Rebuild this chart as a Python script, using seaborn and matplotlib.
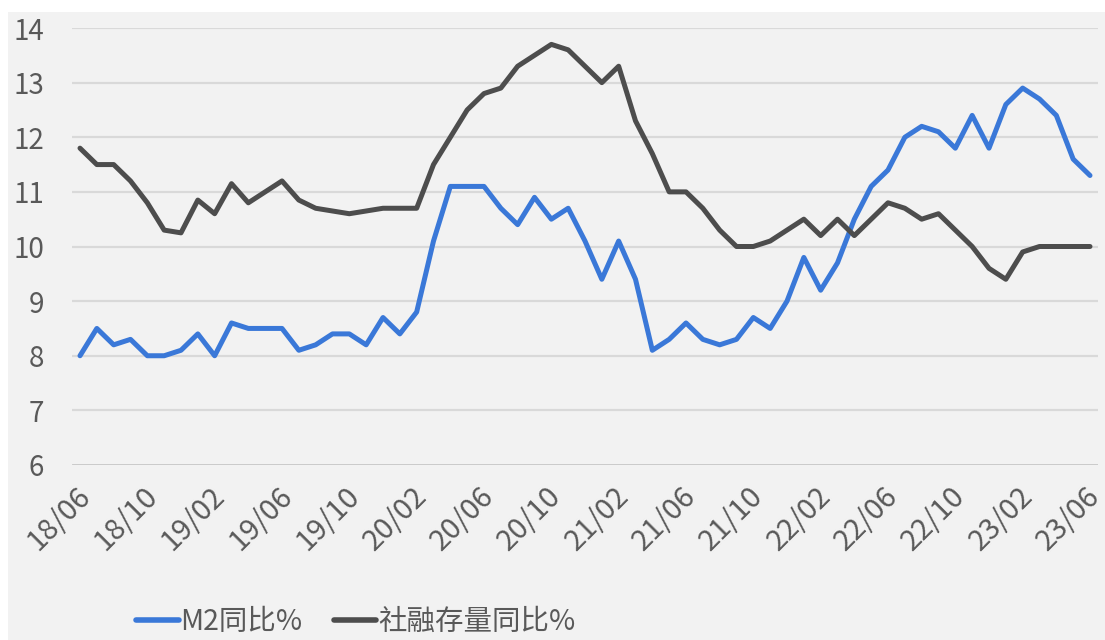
import numpy as np
import pandas as pd
import matplotlib
matplotlib.use("Agg")
import matplotlib.pyplot as plt
import matplotlib.transforms as mtransforms
import seaborn as sns
from matplotlib.patches import Rectangle

# monthly, 2018-06 .. 2023-06
months = pd.date_range("2018-06-01", periods=61, freq="MS").strftime("%y/%m").tolist()

m2_yoy = [8.0, 8.5, 8.2, 8.3, 8.0, 8.0, 8.1, 8.4, 8.0, 8.6,
          8.5, 8.5, 8.5, 8.1, 8.2, 8.4, 8.4, 8.2, 8.7, 8.4,
          8.8, 10.1, 11.1, 11.1, 11.1, 10.7, 10.4, 10.9, 10.5, 10.7,
          10.1, 9.4, 10.1, 9.4, 8.1, 8.3, 8.6, 8.3, 8.2, 8.3,
          8.7, 8.5, 9.0, 9.8, 9.2, 9.7, 10.5, 11.1, 11.4, 12.0,
          12.2, 12.1, 11.8, 12.4, 11.8, 12.6, 12.9, 12.7, 12.4, 11.6,
          11.3]

tsf_yoy = [11.8, 11.5, 11.5, 11.2, 10.8, 10.3, 10.25, 10.85, 10.6, 11.15,
           10.8, 11.0, 11.2, 10.85, 10.7, 10.65, 10.6, 10.65, 10.7, 10.7,
           10.7, 11.5, 12.0, 12.5, 12.8, 12.9, 13.3, 13.5, 13.7, 13.6,
           13.3, 13.0, 13.3, 12.3, 11.7, 11.0, 11.0, 10.7, 10.3, 10.0,
           10.0, 10.1, 10.3, 10.5, 10.2, 10.5, 10.2, 10.5, 10.8, 10.7,
           10.5, 10.6, 10.3, 10.0, 9.6, 9.4, 9.9, 10.0, 10.0, 10.0,
           10.0]

series_names = ["M2同比%", "社融存量同比%"]
colors = ["#3a78d8", "#4d4d4d"]
y_ticks = [6, 7, 8, 9, 10, 11, 12, 13, 14]

df = pd.DataFrame({
    "idx": list(range(len(months))) * 2,
    "value": m2_yoy + tsf_yoy,
    "series": [series_names[0]] * len(months) + [series_names[1]] * len(months),
})

sns.set_style("white")
plt.rcParams["font.family"] = ["Noto Sans CJK SC", "DejaVu Sans"]
txt_color = "#595959"

fig = plt.figure(figsize=(11.05, 6.4), dpi=100)
fig.patch.set_facecolor("white")
fig.patches.append(Rectangle((8 / 1105, 0), 1, 1 - 12 / 640, transform=fig.transFigure,
                             facecolor="#f2f2f2", edgecolor="none", zorder=-10))

ax = fig.add_axes([72 / 1105, 1 - 465 / 640, (1098 - 72) / 1105, (465 - 28) / 640])
ax.set_facecolor("none")

sns.lineplot(data=df, x="idx", y="value", hue="series", palette=colors,
             linewidth=3.6, ax=ax, legend=False)

ax.set_xlim(-0.475, 60.475)
ax.set_ylim(6, 14)
ax.set_yticks(y_ticks)
ax.set_yticklabels([str(v) for v in y_ticks], fontsize=20, color=txt_color,
                   fontweight="light")
tick_pos = list(range(0, 61, 4))
ax.set_xticks(tick_pos)
ax.set_xticklabels([months[i] for i in tick_pos], rotation=45, ha="right",
                   rotation_mode="anchor", fontsize=21, color=txt_color,
                   fontweight="light")
ax.tick_params(axis="x", length=0, pad=12)
ax.tick_params(axis="y", length=0, pad=20)
shift = mtransforms.ScaledTranslation(-5 / 100, 0, fig.dpi_scale_trans)
for lbl in ax.get_xticklabels():
    lbl.set_transform(lbl.get_transform() + shift)
for y in y_ticks[1:]:
    ax.axhline(y, color="#d9d9d9", linewidth=1.6, zorder=0)
ax.axhline(6, color="#bfbfbf", linewidth=1.8, zorder=0)
for s in ax.spines.values():
    s.set_visible(False)
ax.set_xlabel("")
ax.set_ylabel("")

handles = [plt.Line2D([], [], color=c, linewidth=4) for c in colors]
leg = fig.legend(handles, series_names, loc="center left", bbox_to_anchor=(0.1, 0.028),
                 ncol=2, frameon=False, handlelength=1.5, handletextpad=0.05,
                 columnspacing=1.1, prop={"weight": "light", "size": 20.5})
for t in leg.get_texts():
    t.set_color(txt_color)

fig.savefig("out.png", dpi=100)
